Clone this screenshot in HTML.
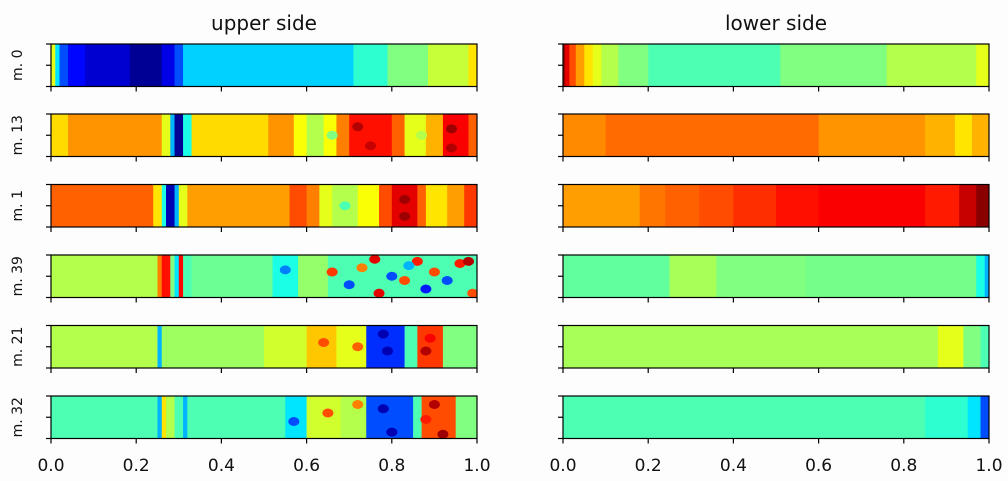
<!DOCTYPE html>
<html><head><meta charset="utf-8"><style>
body{margin:0;background:#fdfdfd;}
svg{display:block;font-family:"DejaVu Sans","Liberation Sans",sans-serif;}
</style></head><body>
<svg id="chart" width="1008" height="481"></svg>
<script>
const rowLabels=["m. 0","m. 13","m. 1","m. 39","m. 21","m. 32"];
const xTicks=[0,0.2,0.4,0.6,0.8,1.0];
const xTickLabels=["0.0","0.2","0.4","0.6","0.8","1.0"];
// bands: [start,end,value(jet 0..1)]
const upperBands=[
 [[0,.01,.6],[.01,.02,.35],[.02,.04,.2],[.04,.08,.13],[.08,.185,.08],[.185,.26,.02],[.26,.29,.1],[.29,.31,.2],[.31,.71,.33],[.71,.79,.42],[.79,.885,.5],[.885,.98,.57],[.98,1,.65]],
 [[0,.04,.66],[.04,.26,.73],[.26,.28,.6],[.28,.29,.3],[.29,.31,.02],[.31,.33,.4],[.33,.51,.66],[.51,.57,.73],[.57,.6,.62],[.6,.64,.55],[.64,.67,.62],[.67,.7,.75],[.7,.8,.86],[.8,.83,.78],[.83,.88,.6],[.88,.92,.7],[.92,.98,.88],[.98,1,.78]],
 [[0,.24,.78],[.24,.26,.65],[.26,.27,.4],[.27,.29,.05],[.29,.3,.3],[.3,.32,.6],[.32,.56,.72],[.56,.6,.8],[.6,.63,.75],[.63,.66,.6],[.66,.72,.55],[.72,.77,.62],[.77,.8,.8],[.8,.86,.9],[.86,.88,.78],[.88,.93,.65],[.93,.97,.72],[.97,1,.82]],
 [[0,.25,.55],[.25,.26,.75],[.26,.28,.86],[.28,.29,.5],[.29,.3,.35],[.3,.31,.87],[.31,.33,.45],[.33,.52,.48],[.52,.58,.4],[.58,.65,.52],[.65,1,.45]],
 [[0,.25,.55],[.25,.26,.3],[.26,.5,.53],[.5,.6,.58],[.6,.67,.68],[.67,.74,.6],[.74,.83,.17],[.83,.86,.45],[.86,.92,.82],[.92,1,.5]],
 [[0,.25,.45],[.25,.26,.3],[.26,.27,.65],[.27,.29,.55],[.29,.31,.45],[.31,.32,.3],[.32,.55,.45],[.55,.6,.35],[.6,.68,.58],[.68,.74,.55],[.74,.85,.2],[.85,.87,.45],[.87,.95,.8],[.95,1,.5]]
];
const lowerBands=[
 [[0,.005,.97],[.005,.015,.9],[.015,.03,.8],[.03,.05,.72],[.05,.07,.65],[.07,.09,.6],[.09,.13,.55],[.13,.2,.5],[.2,.51,.45],[.51,.76,.5],[.76,.97,.55],[.97,1,.6]],
 [[0,.1,.74],[.1,.6,.77],[.6,.85,.73],[.85,.92,.7],[.92,.96,.65],[.96,1,.7]],
 [[0,.18,.72],[.18,.24,.76],[.24,.32,.78],[.32,.4,.8],[.4,.5,.83],[.5,.6,.86],[.6,.85,.88],[.85,.93,.85],[.93,.97,.93],[.97,1,.99]],
 [[0,.25,.47],[.25,.36,.54],[.36,.57,.5],[.57,.97,.49],[.97,.99,.4],[.99,1,.3]],
 [[0,.88,.54],[.88,.94,.6],[.94,.98,.5],[.98,1,.45]],
 [[0,.85,.45],[.85,.95,.42],[.95,.98,.35],[.98,1,.2]]
];
// blobs: [row, x, yfrac, value]
const upperBlobs=[
 [1,.72,.3,.95],[1,.75,.75,.93],[1,.94,.35,.97],[1,.94,.8,.95],[1,.66,.5,.5],[1,.87,.5,.55],
 [2,.83,.35,.97],[2,.83,.75,.97],[2,.69,.5,.45],
 [3,.55,.35,.25],[3,.66,.4,.82],[3,.7,.7,.2],[3,.73,.3,.75],[3,.76,.1,.9],[3,.77,.9,.9],[3,.8,.5,.2],[3,.83,.6,.8],[3,.86,.15,.85],[3,.88,.8,.15],[3,.9,.4,.8],[3,.93,.6,.2],[3,.96,.2,.85],[3,.98,.15,.95],[3,.99,.9,.8],[3,.84,.25,.3],
 [4,.64,.4,.8],[4,.72,.5,.78],[4,.78,.2,.05],[4,.79,.6,.05],[4,.88,.6,.95],[4,.89,.3,.88],
 [5,.57,.6,.2],[5,.65,.4,.8],[5,.72,.2,.75],[5,.78,.3,.05],[5,.8,.85,.05],[5,.9,.2,.95],[5,.92,.9,.97],[5,.88,.55,.85]
];
function jet(v){
  v=Math.max(0,Math.min(1,v));
  const r=Math.min(4*v-1.5,-4*v+4.5), g=Math.min(4*v-0.5,-4*v+3.5), b=Math.min(4*v+0.5,-4*v+2.5);
  const c=x=>Math.round(255*Math.max(0,Math.min(1,x)));
  return `rgb(${c(r)},${c(g)},${c(b)})`;
}
const NS="http://www.w3.org/2000/svg";
const svg=document.getElementById('chart');
function el(t,a,p){const e=document.createElementNS(NS,t);for(const k in a)e.setAttribute(k,a[k]);(p||svg).appendChild(e);return e;}
const cols=[{x0:51,x1:477},{x0:563,x1:989}];
const rowTops=[44,114,184.5,255,325.5,396];
const H=42.5;
function xScale(c,v){return cols[c].x0+v*(cols[c].x1-cols[c].x0);}
const defs=el('defs',{});
[0,1].forEach(ci=>{
  const bands=ci===0?upperBands:lowerBands;
  rowTops.forEach((top,ri)=>{
    const g=el('g',{});
    
    
    const cp=el('clipPath',{id:'cp'+ci+'_'+ri},defs);
    el('rect',{x:cols[ci].x0,y:top,width:cols[ci].x1-cols[ci].x0,height:H},cp);
    const inner=el('g',{'clip-path':'url(#cp'+ci+'_'+ri+')'},g);
    bands[ri].forEach(b=>{
      const r=el('rect',{x:xScale(ci,b[0]),y:top,width:xScale(ci,b[1])-xScale(ci,b[0])+0.6,height:H,fill:jet(b[2])},inner);
      
      
    });
    if(ci===0){
      upperBlobs.filter(b=>b[0]===ri).forEach(b=>{
        const e=el('ellipse',{cx:xScale(0,b[1]),cy:top+b[2]*H,rx:5.5,ry:4.5,fill:jet(b[3])},inner);
        
        
      });
    }
    el('rect',{x:cols[ci].x0,y:top,width:cols[ci].x1-cols[ci].x0,height:H,fill:'none',stroke:'#000','stroke-width':1.2},g);
    [0,.5,1].forEach(f=>el('line',{x1:cols[ci].x0-5,x2:cols[ci].x0,y1:top+f*H,y2:top+f*H,stroke:'#000','stroke-width':1.2},g));
    xTicks.forEach(t=>el('line',{x1:xScale(ci,t),x2:xScale(ci,t),y1:top+H,y2:top+H+5,stroke:'#000','stroke-width':1.2},g));
    if(ci===0){
      const tl=el('text',{x:0,y:0,'font-size':14,'text-anchor':'middle',transform:`translate(22,${top+H/2}) rotate(-90)`,fill:'#111'});
      tl.textContent=rowLabels[ri];
      
      
    }
  });
  xTicks.forEach((t,i)=>{
    const tx=el('text',{x:xScale(ci,t),y:471,'font-size':17,'text-anchor':'middle',fill:'#111'});
    tx.textContent=xTickLabels[i];
    
    
  });
  const title=el('text',{x:(cols[ci].x0+cols[ci].x1)/2,y:30,'font-size':20,'text-anchor':'middle',fill:'#111'});
  title.textContent=ci===0?'upper side':'lower side';
  
  
});
</script>
</body></html>
